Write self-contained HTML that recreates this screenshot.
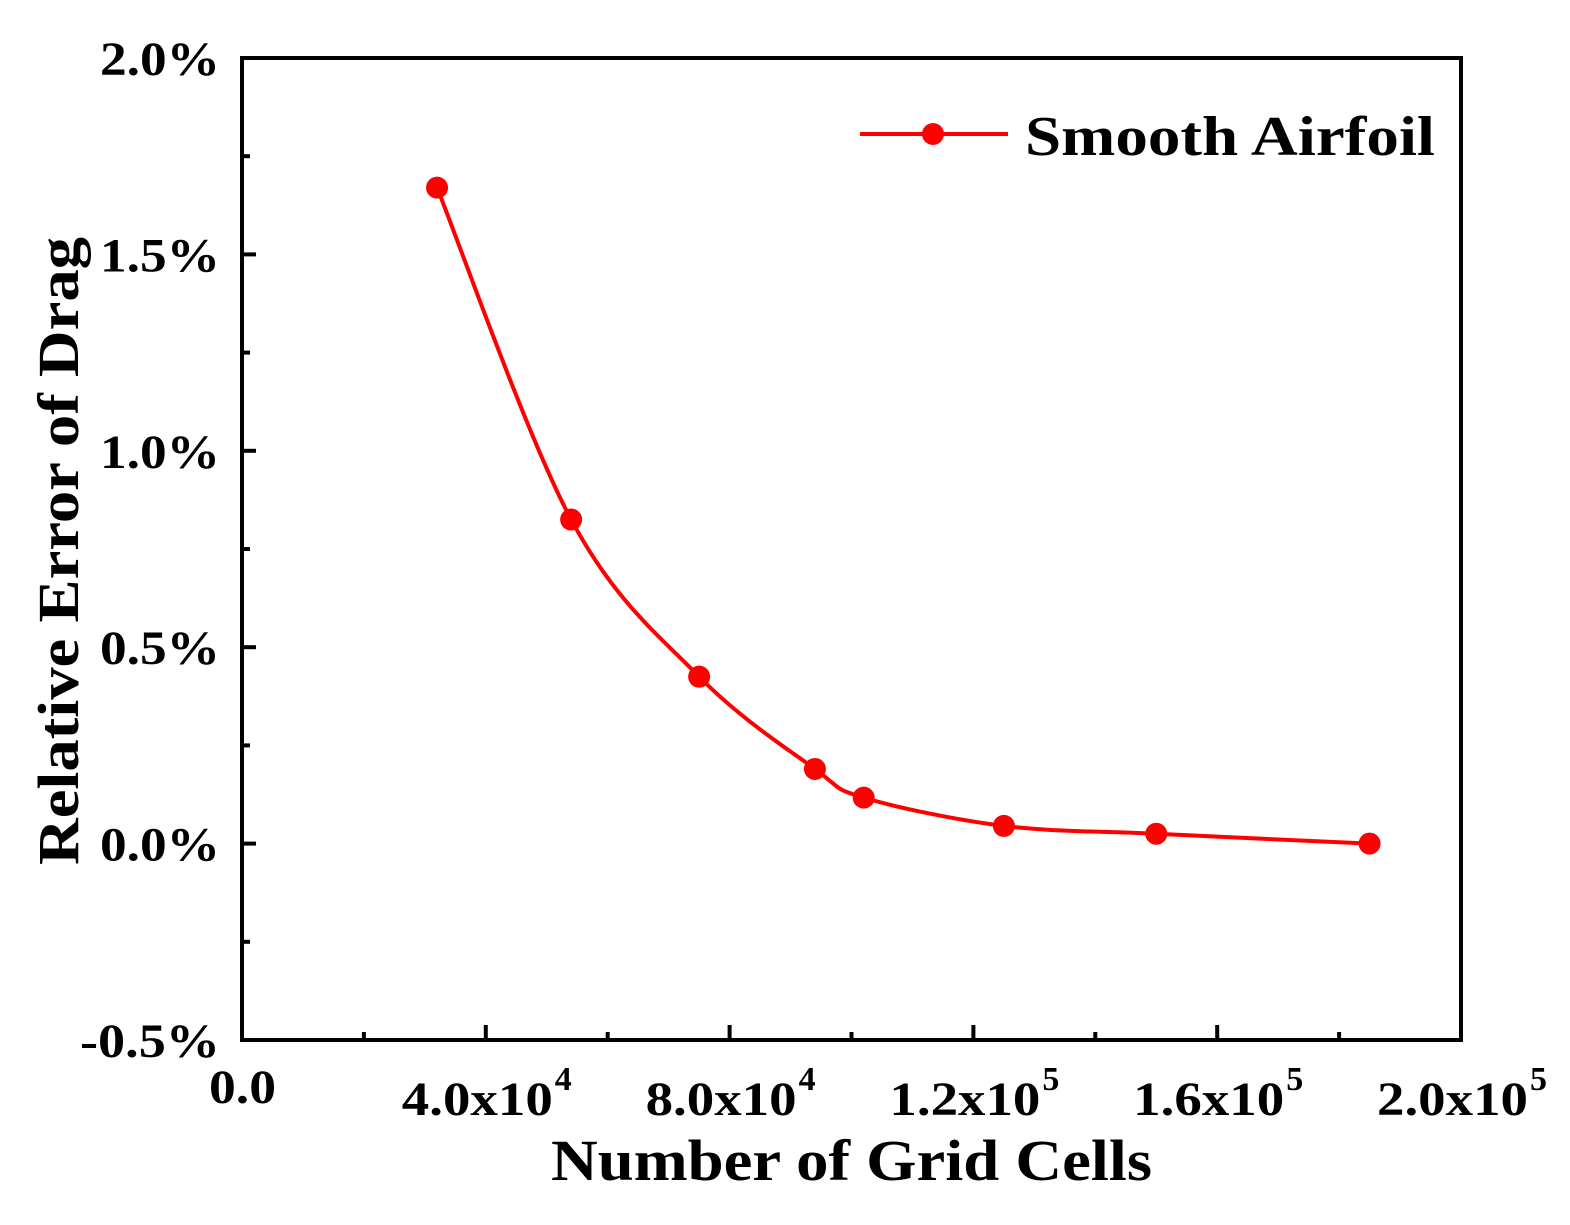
<!DOCTYPE html>
<html><head><meta charset="utf-8"><style>
html,body{margin:0;padding:0;background:#fff;}
svg text{font-family:"Liberation Serif",serif;font-weight:bold;fill:#000;}
</style></head><body>
<svg id="chart" width="1570" height="1220" xmlns="http://www.w3.org/2000/svg">
<g id="axes"></g>
<g id="series"></g>
<g>
<line x1="860" y1="134" x2="1008" y2="134" stroke="#ff0000" stroke-width="4"/>
<circle cx="933" cy="134" r="11" fill="#ff0000"/>
<text x="1025" y="155" font-size="56" textLength="410" lengthAdjust="spacingAndGlyphs">Smooth Airfoil</text>
</g>
<text x="551" y="1180" font-size="58" textLength="601" lengthAdjust="spacingAndGlyphs">Number of Grid Cells</text>
<text transform="translate(78,865) rotate(-90)" font-size="58" textLength="628" lengthAdjust="spacingAndGlyphs">Relative Error of Drag</text>
</svg>
<script>
const xValues=[32000,54000,75000,94000,102000,125000,150000,185000];
const yValues=[1.67,0.825,0.425,0.19,0.117,0.045,0.025,0.0];
const yTicks=[-0.5,0,0.5,1.0,1.5,2.0];
const yTickLabels=["-0.5%","0.0%","0.5%","1.0%","1.5%","2.0%"];
const xTicks=[0,40000,80000,120000,160000,200000];
const xTickMant=["0.0","4.0x10","8.0x10","1.2x10","1.6x10","2.0x10"];
const xTickExp=["","4","4","5","5","5"];
const L=242,R=1461,T=58,B=1040;
const xs=v=>L+(v-0)/(200000)*(R-L);
const ys=v=>B-(v+0.5)/2.5*(B-T);
const NS="http://www.w3.org/2000/svg";
function mk(tag,attrs,parent){const e=document.createElementNS(NS,tag);for(const k in attrs)e.setAttribute(k,attrs[k]);parent.appendChild(e);return e;}
const ax=document.getElementById('axes');
const frame=mk('rect',{x:L,y:T,width:R-L,height:B-T,fill:'none',stroke:'#000','stroke-width':4},ax);


for(let i=0;i<yTicks.length;i++){
 const y=ys(yTicks[i]);
 const t=mk('line',{x1:L,x2:L+14,y1:y,y2:y,stroke:'#000','stroke-width':4},ax);
 
 
 if(i<yTicks.length-1){const ym=ys(yTicks[i]+0.25);
  const m=mk('line',{x1:L,x2:L+8,y1:ym,y2:ym,stroke:'#000','stroke-width':4},ax);
  
  }
 const neg=yTickLabels[i][0]=='-';
 const w=neg?140:120;
 const lb=mk('text',{x:220-w,y:y+17,'font-size':48,textLength:w,lengthAdjust:'spacingAndGlyphs'},ax);
 lb.textContent=yTickLabels[i];
 
 
}
for(let i=0;i<xTicks.length;i++){
 const x=xs(xTicks[i]);
 const t=mk('line',{x1:x,x2:x,y1:B,y2:B-15,stroke:'#000','stroke-width':4},ax);
 
 
 if(i<xTicks.length-1){const xm=xs(xTicks[i]+20000);
  const m=mk('line',{x1:xm,x2:xm,y1:B,y2:B-8,stroke:'#000','stroke-width':4},ax);
  
  }
 if(!xTickExp[i]){
  const lb=mk('text',{x:x-33,y:1103,'font-size':48,textLength:67,lengthAdjust:'spacingAndGlyphs'},ax);
  lb.textContent=xTickMant[i];
  
  
 } else {
  const lb=mk('text',{x:x-84,y:1115,'font-size':48,textLength:151,lengthAdjust:'spacingAndGlyphs'},ax);
  lb.textContent=xTickMant[i];
  
  
  const ex=mk('text',{x:x+69,y:1090,'font-size':34},ax);
  ex.textContent=xTickExp[i];
  
  
 }
}
const sg=document.getElementById('series');
const P=xValues.map((v,i)=>[xs(v),ys(yValues[i])]);
let d='M'+P[0][0]+','+P[0][1];
for(let i=0;i<P.length-1;i++){
 const p0=P[Math.max(0,i-1)],p1=P[i],p2=P[i+1],p3=P[Math.min(P.length-1,i+2)];
 const c1=[p1[0]+(p2[0]-p0[0])/6,p1[1]+(p2[1]-p0[1])/6];
 const c2=[p2[0]-(p3[0]-p1[0])/6,p2[1]-(p3[1]-p1[1])/6];
 d+=' C'+c1[0]+','+c1[1]+' '+c2[0]+','+c2[1]+' '+p2[0]+','+p2[1];
}
const path=mk('path',{d:d,fill:'none',stroke:'#ff0000','stroke-width':4},sg);


P.forEach(p=>{const c=mk('circle',{cx:p[0],cy:p[1],r:11,fill:'#ff0000'},sg);
 
 });
</script>
</body></html>
